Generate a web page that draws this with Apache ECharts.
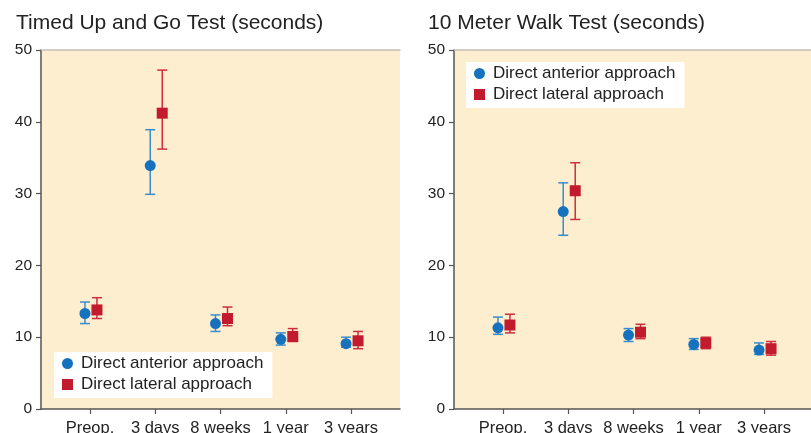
<!DOCTYPE html>
<html>
<head>
<meta charset="utf-8">
<script src="https://cdn.jsdelivr.net/npm/echarts@6/dist/echarts.min.js"></script>
<style>
  html, body { margin: 0; padding: 0; background: #fff; }
  #chart { width: 811px; height: 433px; }
</style>
</head>
<body>
<div id="chart"></div>
<script>
const categories = ['Preop.', '3 days', '8 weeks', '1 year', '3 years']
const yTicks = [0, 10, 20, 30, 40, 50]
const seriesNames = ['Direct anterior approach', 'Direct lateral approach']

// Timed Up and Go Test (seconds): mean, lower, upper
const tugAnteriorMean = [13.3, 33.9, 11.9, 9.7, 9.1]
const tugAnteriorLow = [11.9, 29.9, 10.8, 8.9, 8.6]
const tugAnteriorHigh = [14.9, 38.9, 13.1, 10.6, 10.0]
const tugLateralMean = [13.8, 41.2, 12.6, 10.1, 9.5]
const tugLateralLow = [12.6, 36.2, 11.6, 9.4, 8.4]
const tugLateralHigh = [15.5, 47.2, 14.2, 11.2, 10.8]

// 10 Meter Walk Test (seconds)
const walkAnteriorMean = [11.3, 27.5, 10.3, 9.0, 8.2]
const walkAnteriorLow = [10.4, 24.2, 9.4, 8.3, 7.6]
const walkAnteriorHigh = [12.8, 31.5, 11.2, 9.8, 9.2]
const walkLateralMean = [11.7, 30.4, 10.7, 9.2, 8.4]
const walkLateralLow = [10.6, 26.4, 9.8, 8.4, 7.5]
const walkLateralHigh = [13.2, 34.3, 11.8, 10.0, 9.4]

const font = "'Liberation Sans', Arial, sans-serif"
const blue = '#1672be'
const blueBar = '#3a8ccc'
const red = '#c11b2d'
const redBar = '#cf2c3e'
const tickPos = categories.map((c, i) => i + 1)

const rows = (mean, low, high) => mean.map((m, i) => [i + 1, m, low[i], high[i]])

// error bar + marker, shifted sideways by dx pixels
const makeRender = (dx, shape, barColor, color) => (params, api) => {
  const x = api.value(0)
  const pm = api.coord([x, api.value(1)])
  const pl = api.coord([x, api.value(2)])
  const ph = api.coord([x, api.value(3)])
  const cx = pm[0] + dx
  const cap = 5
  const ls = { stroke: barColor, lineWidth: 1.5 }
  const children = [
    { type: 'line', shape: { x1: cx, y1: pl[1], x2: cx, y2: ph[1] }, style: ls },
    { type: 'line', shape: { x1: cx - cap, y1: pl[1], x2: cx + cap, y2: pl[1] }, style: ls },
    { type: 'line', shape: { x1: cx - cap, y1: ph[1], x2: cx + cap, y2: ph[1] }, style: ls }
  ]
  if (shape === 'circle') {
    children.push({ type: 'circle', shape: { cx: cx, cy: pm[1], r: 5.5 }, style: { fill: color } })
  } else {
    children.push({ type: 'rect', shape: { x: cx - 5.5, y: pm[1] - 5.5, width: 11, height: 11 }, style: { fill: color } })
  }
  return { type: 'group', children }
}

const xAxisFor = (gi) => ({
  type: 'value',
  gridIndex: gi,
  min: 0.25,
  max: 5.75,
  axisLine: { show: true, lineStyle: { color: '#555', width: 1.5 } },
  axisTick: { show: true, length: 5, customValues: tickPos, lineStyle: { color: '#555', width: 1.2 } },
  axisLabel: {
    customValues: tickPos,
    formatter: v => categories[Math.round(v) - 1] || '',
    color: '#222', fontSize: 16.5, fontFamily: font, margin: 11
  },
  splitLine: { show: false }
})

const topAxisFor = (gi) => ({
  type: 'value',
  gridIndex: gi,
  position: 'top',
  min: 0.25,
  max: 5.75,
  axisLine: { show: true, lineStyle: { color: '#c4c0b8', width: 1.5 } },
  axisTick: { show: false },
  axisLabel: { show: false },
  splitLine: { show: false }
})

const yAxisFor = (gi) => ({
  type: 'value',
  gridIndex: gi,
  min: yTicks[0],
  max: yTicks[yTicks.length - 1],
  interval: 10,
  axisLine: { show: true, lineStyle: { color: '#555', width: 1.5 } },
  axisTick: { show: true, length: 5, lineStyle: { color: '#555', width: 1.2 } },
  axisLabel: { color: '#222', fontSize: 15.5, fontFamily: font, margin: 9 },
  splitLine: { show: false }
})

const legendFor = (pos) => Object.assign({
  orient: 'vertical',
  data: [
    { name: seriesNames[0], icon: 'circle', itemStyle: { color: blue } },
    { name: seriesNames[1], icon: 'rect', itemStyle: { color: red } }
  ],
  backgroundColor: '#fff',
  padding: [3, 9, 5, 8],
  itemGap: 4,
  itemWidth: 11,
  itemHeight: 11,
  textStyle: { color: '#222', fontSize: 17, fontFamily: font, padding: [0, 0, 0, 3] },
  selectedMode: false
}, pos)

const chart = echarts.init(document.getElementById('chart'))
chart.setOption({
  animation: false,
  title: [
    { text: 'Timed Up and Go Test (seconds)', left: 11, top: 8,
      textStyle: { fontSize: 21, fontWeight: 'normal', color: '#222', fontFamily: font } },
    { text: '10 Meter Walk Test (seconds)', left: 423, top: 8,
      textStyle: { fontSize: 21, fontWeight: 'normal', color: '#222', fontFamily: font } }
  ],
  legend: [
    legendFor({ left: 54, top: 352 }),
    legendFor({ left: 466, top: 62 })
  ],
  grid: [
    { left: 41, top: 50, width: 359, height: 359, show: true, backgroundColor: '#fdeecf', borderWidth: 0, outerBoundsMode: 'none' },
    { left: 454, top: 50, width: 359, height: 359, show: true, backgroundColor: '#fdeecf', borderWidth: 0, outerBoundsMode: 'none' }
  ],
  xAxis: [xAxisFor(0), xAxisFor(1), topAxisFor(0), topAxisFor(1)],
  yAxis: [yAxisFor(0), yAxisFor(1)],
  series: [
    { name: seriesNames[0], type: 'custom', xAxisIndex: 0, yAxisIndex: 0, color: blue,
      renderItem: makeRender(-5, 'circle', blueBar, blue), data: rows(tugAnteriorMean, tugAnteriorLow, tugAnteriorHigh) },
    { name: seriesNames[1], type: 'custom', xAxisIndex: 0, yAxisIndex: 0, color: red,
      renderItem: makeRender(7, 'rect', redBar, red), data: rows(tugLateralMean, tugLateralLow, tugLateralHigh) },
    { name: seriesNames[0], type: 'custom', xAxisIndex: 1, yAxisIndex: 1, color: blue,
      renderItem: makeRender(-5, 'circle', blueBar, blue), data: rows(walkAnteriorMean, walkAnteriorLow, walkAnteriorHigh) },
    { name: seriesNames[1], type: 'custom', xAxisIndex: 1, yAxisIndex: 1, color: red,
      renderItem: makeRender(7, 'rect', redBar, red), data: rows(walkLateralMean, walkLateralLow, walkLateralHigh) }
  ]
})
</script>
</body>
</html>
